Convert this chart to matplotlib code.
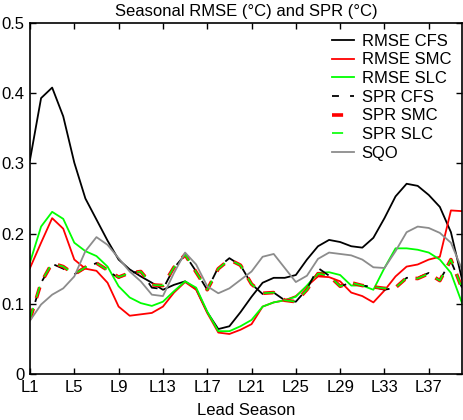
import numpy as np
import matplotlib
matplotlib.use("Agg")
import matplotlib.pyplot as plt

# Datos (40 estaciones de adelanto)
leads = np.arange(1, 41)
tick_leads = [1, 5, 9, 13, 17, 21, 25, 29, 33, 37]
tick_labels = ["L%d" % l for l in tick_leads]

rmse_cfs = [0.305, 0.393, 0.408, 0.367, 0.301, 0.250, 0.220, 0.190, 0.163, 0.149,
            0.139, 0.130, 0.120, 0.127, 0.132, 0.121, 0.088, 0.064, 0.068, 0.088,
            0.110, 0.130, 0.137, 0.137, 0.141, 0.163, 0.182, 0.191, 0.188, 0.182,
            0.180, 0.194, 0.222, 0.253, 0.271, 0.268, 0.255, 0.238, 0.202, 0.135]
rmse_smc = [0.151, 0.187, 0.222, 0.207, 0.163, 0.150, 0.147, 0.130, 0.096, 0.083,
            0.085, 0.087, 0.096, 0.116, 0.131, 0.120, 0.087, 0.059, 0.057, 0.063,
            0.071, 0.096, 0.102, 0.105, 0.111, 0.125, 0.139, 0.138, 0.132, 0.116,
            0.111, 0.102, 0.119, 0.139, 0.153, 0.156, 0.163, 0.167, 0.233, 0.232]
rmse_slc = [0.159, 0.210, 0.231, 0.221, 0.187, 0.175, 0.168, 0.153, 0.125, 0.109,
            0.101, 0.097, 0.103, 0.118, 0.132, 0.123, 0.089, 0.061, 0.061, 0.068,
            0.077, 0.096, 0.102, 0.105, 0.110, 0.126, 0.144, 0.145, 0.141, 0.126,
            0.126, 0.120, 0.151, 0.179, 0.179, 0.177, 0.173, 0.163, 0.144, 0.101]
spr_cfs = [0.078, 0.130, 0.157, 0.150, 0.142, 0.151, 0.158, 0.147, 0.137, 0.144,
           0.146, 0.123, 0.121, 0.151, 0.170, 0.146, 0.120, 0.152, 0.165, 0.155,
           0.128, 0.114, 0.116, 0.105, 0.103, 0.121, 0.151, 0.140, 0.125, 0.130,
           0.126, 0.124, 0.120, 0.123, 0.137, 0.137, 0.144, 0.134, 0.161, 0.123]
spr_smc = [0.078, 0.130, 0.158, 0.153, 0.142, 0.152, 0.158, 0.148, 0.138, 0.144,
           0.146, 0.127, 0.126, 0.152, 0.170, 0.145, 0.120, 0.150, 0.163, 0.155,
           0.128, 0.115, 0.116, 0.105, 0.103, 0.120, 0.143, 0.140, 0.125, 0.130,
           0.126, 0.124, 0.122, 0.123, 0.137, 0.136, 0.143, 0.133, 0.163, 0.122]
spr_slc = [0.079, 0.131, 0.158, 0.153, 0.142, 0.152, 0.158, 0.148, 0.138, 0.144,
           0.146, 0.127, 0.126, 0.152, 0.170, 0.145, 0.120, 0.150, 0.163, 0.155,
           0.128, 0.115, 0.116, 0.105, 0.103, 0.120, 0.143, 0.140, 0.125, 0.130,
           0.126, 0.124, 0.122, 0.123, 0.137, 0.136, 0.143, 0.133, 0.163, 0.122]
sqo = [0.076, 0.099, 0.113, 0.122, 0.139, 0.175, 0.195, 0.184, 0.165, 0.146,
       0.132, 0.113, 0.111, 0.144, 0.173, 0.156, 0.125, 0.115, 0.122, 0.134,
       0.146, 0.167, 0.171, 0.151, 0.131, 0.140, 0.164, 0.173, 0.171, 0.169,
       0.163, 0.152, 0.151, 0.175, 0.202, 0.210, 0.208, 0.201, 0.187, 0.149]

plt.rcParams['font.family'] = ['Liberation Sans', 'DejaVu Sans']
plt.rcParams['font.size'] = 12
plt.rcParams['lines.scale_dashes'] = False

fig = plt.figure(figsize=(4.64, 4.2), dpi=100)
ax = fig.add_axes([30 / 464, 46 / 420, 432 / 464, 351 / 420])

guion = (8, 8)
ax.plot(leads, rmse_cfs, color='black', lw=1.3, label='RMSE CFS')
ax.plot(leads, rmse_smc, color='#ff0000', lw=1.3, label='RMSE SMC')
ax.plot(leads, rmse_slc, color='#00ff00', lw=1.3, label='RMSE SLC')
ax.plot(leads, spr_cfs, color='black', lw=1.3, linestyle=(3, guion), label='SPR CFS')
ax.plot(leads, spr_smc, color='#ff0000', lw=2.6, linestyle=(0, guion), label='SPR SMC')
ax.plot(leads, spr_slc, color='#00ff00', lw=1.2, linestyle=(0, guion), label='SPR SLC')
ax.plot(leads, sqo, color='#8c8c8c', lw=1.3, label='SQO')

ax.set_xlim(1, 40)
ax.set_ylim(0, 0.5)
ax.set_xticks(tick_leads)
ax.set_xticklabels(tick_labels)
ax.set_yticks([0, 0.1, 0.2, 0.3, 0.4, 0.5])
ax.set_yticklabels(['0', '0.1', '0.2', '0.3', '0.4', '0.5'])
ax.tick_params(direction='in', top=True, right=True, length=4, width=1, pad=4)
for s in ax.spines.values():
    s.set_linewidth(1.2)

ax.set_title('Seasonal RMSE (°C) and SPR (°C)', fontsize=12, pad=5)
ax.set_xlabel('Lead Season', fontsize=12, labelpad=6)

ax.legend(loc='upper right', frameon=False, handlelength=1.3, handletextpad=0.45,
          labelspacing=0.22, borderaxespad=0.2, borderpad=0.45)

fig.savefig('out.png', dpi=100)
